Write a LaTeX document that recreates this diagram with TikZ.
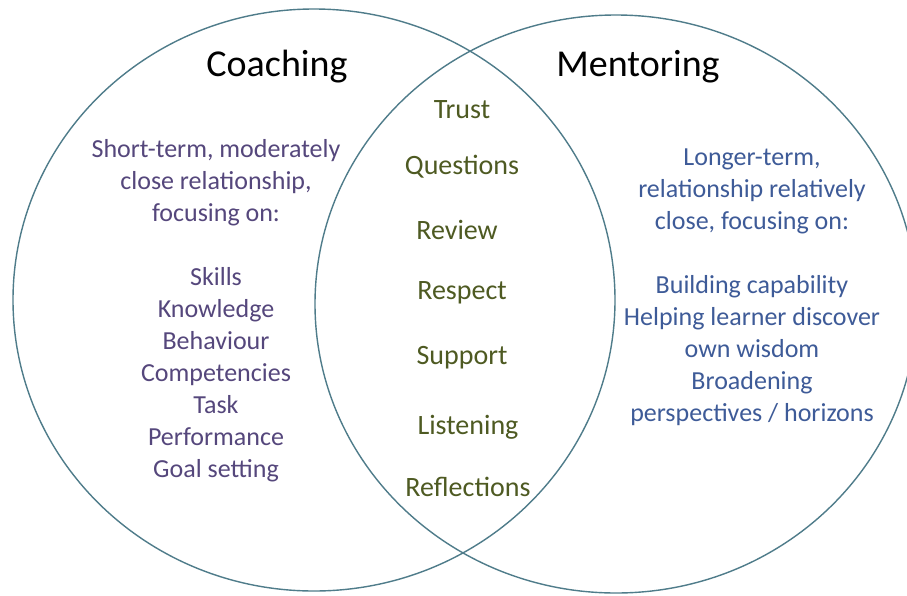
\documentclass[tikz,border=0pt]{standalone}
\usepackage{fontspec}
\setmainfont{Carlito}
\usepackage{tikz}

\definecolor{ringcol}{HTML}{4F7C8A}
\definecolor{coachcol}{HTML}{55477C}
\definecolor{sharecol}{HTML}{4E5A22}
\definecolor{mentorcol}{HTML}{3E5B98}

\begin{document}
\begin{tikzpicture}[x=1pt,y=-1pt,
    ring/.style={draw=ringcol, line width=1.4pt},
    title/.style={font=\fontsize{38}{40}\selectfont, text=black},
    coachtext/.style={align=center, text=coachcol, font=\fontsize{26}{32}\selectfont},
    mentortext/.style={align=center, text=mentorcol, font=\fontsize{26}{32}\selectfont},
    sharedtext/.style={text=sharecol, font=\fontsize{28}{32}\selectfont}]
		  \useasboundingbox (0,0) rectangle (907,595);
		  \clip (0,0) rectangle (907,595);
		  \fill[white] (0,0) rectangle (907,595);
		  % the two rings
		  \draw[ring] (314,300) ellipse (301 and 291);
		  \draw[ring] (616,304) ellipse (301 and 289);
		  % titles
		  \node[title] (coaching) at (277,67) {Coaching};
		  \node[title] (mentoring) at (638,67) {Mentoring};
		  % left part
		  \node[coachtext] (coachlist) at (216,311) {Short-term, moderately\\close relationship,\\focusing on:\\[32pt]Skills\\Knowledge\\Behaviour\\Competencies\\Task\\Performance\\Goal setting};
		  % common part
		  \node[sharedtext] (trust) at (462,110) {Trust};
		  \node[sharedtext] (questions) at (462,167) {Questions};
		  \node[sharedtext] (review) at (457,230) {Review};
		  \node[sharedtext] (respect) at (462,293) {Respect};
		  \node[sharedtext] (support) at (462,358) {Support};
		  \node[sharedtext] (listening) at (468,427) {Listening};
		  \node[sharedtext] (reflections) at (468,487) {Reflections};
		  % right part
		  \node[mentortext] (mentorlist) at (752,287) {Longer-term,\\relationship relatively\\close, focusing on:\\[32pt]Building capability\\Helping learner discover\\own wisdom\\Broadening\\perspectives / horizons};
		\end{tikzpicture}
\end{document}
